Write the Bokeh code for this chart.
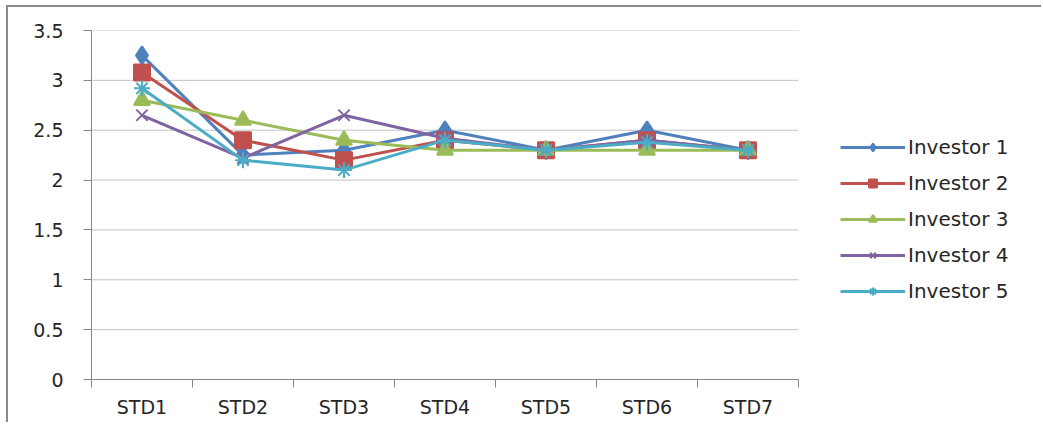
from bokeh.plotting import figure
from bokeh.models import FixedTicker, NumeralTickFormatter, Legend, LegendItem, ColumnDataSource
from bokeh.embed import file_html
from bokeh.resources import INLINE

categories = ["STD1", "STD2", "STD3", "STD4", "STD5", "STD6", "STD7"]
investor1 = [3.25, 2.25, 2.3, 2.5, 2.3, 2.5, 2.3]
investor2 = [3.08, 2.4, 2.2, 2.4, 2.3, 2.4, 2.3]
investor3 = [2.8, 2.6, 2.4, 2.3, 2.3, 2.3, 2.3]
investor4 = [2.65, 2.22, 2.65, 2.42, 2.3, 2.4, 2.3]
investor5 = [2.92, 2.2, 2.1, 2.4, 2.3, 2.38, 2.3]
series_names = ["Investor 1", "Investor 2", "Investor 3", "Investor 4", "Investor 5"]
y_ticks = [0, 0.5, 1, 1.5, 2, 2.5, 3, 3.5]

colors = ["#4F81BD", "#C0504D", "#9BBB59", "#8064A2", "#4BACC6"]
markers = ["diamond", "square", "triangle", "x", "asterisk"]
sizes = [18, 16, 16, 16, 16]

FONT = "DejaVu Sans"
TXT = "#262626"

n = len(categories)
PW, PH = 1035, 417
ML, MR, MT, MB = 83, 3, 23, 45
frame_w = PW - ML - MR
plot_w = 707  # width of category area in pixels
x_end = n * frame_w / plot_w

p = figure(width=PW, height=PH, output_backend="svg", toolbar_location=None,
           x_range=(0, x_end), y_range=(0, 3.5),
           min_border_left=ML, min_border_right=MR, min_border_top=MT, min_border_bottom=MB)
p.margin = (5, 0, 0, 6)
p.styles = {"border-left": "2px solid #8a8a8a", "border-top": "2px solid #8a8a8a"}
p.outline_line_color = None
p.background_fill_color = "white"
p.border_fill_color = "white"

xs = [i + 0.5 for i in range(n)]

# horizontal gridlines limited to the category area
p.xgrid.grid_line_color = None
p.ygrid.grid_line_color = None
p.segment(x0=[0] * len(y_ticks), x1=[n] * len(y_ticks), y0=y_ticks, y1=y_ticks,
          line_color="#c3c3c3", line_width=1)

# axes
p.xaxis.bounds = (0, n)
p.xaxis.ticker = FixedTicker(ticks=xs, minor_ticks=list(range(n + 1)))
p.xaxis.major_label_overrides = {x: c for x, c in zip(xs, categories)}
p.xaxis.major_tick_line_color = None
p.xaxis.minor_tick_line_color = "#868686"
p.xaxis.minor_tick_out = 8
p.xaxis.minor_tick_in = 0
p.xaxis.axis_line_color = "#868686"
p.xaxis.major_label_standoff = 8
p.xaxis.major_label_text_font = FONT
p.xaxis.major_label_text_font_size = "19px"
p.xaxis.major_label_text_color = TXT

p.yaxis.ticker = FixedTicker(ticks=y_ticks)
p.yaxis.formatter = NumeralTickFormatter(format="0.[0]")
p.yaxis.major_tick_line_color = "#868686"
p.yaxis.major_tick_out = 8
p.yaxis.major_tick_in = 0
p.yaxis.minor_tick_line_color = None
p.yaxis.axis_line_color = "#868686"
p.yaxis.major_label_standoff = 20
p.yaxis.major_label_text_font = FONT
p.yaxis.major_label_text_font_size = "19px"
p.yaxis.major_label_text_color = TXT

items = []
for name, vals, col, mk, sz in zip(series_names, [investor1, investor2, investor3, investor4, investor5],
                                   colors, markers, sizes):
    src = ColumnDataSource(dict(x=xs, y=vals))
    ln = p.line("x", "y", source=src, line_color=col, line_width=3)
    sc = p.scatter("x", "y", source=src, marker=mk, size=sz, fill_color=col,
                   line_color=col, line_width=2)
    items.append(LegendItem(label=name, renderers=[ln, sc]))

legend = Legend(items=items, location=(749, 76), padding=0, margin=0, spacing=12,
                glyph_width=65, glyph_height=20, label_height=20, label_standoff=3,
                label_text_font=FONT, label_text_font_size="20px", label_text_color=TXT,
                border_line_color=None, background_fill_alpha=0)
p.add_layout(legend, "center")

open("out.html", "w").write(file_html(p, INLINE))
